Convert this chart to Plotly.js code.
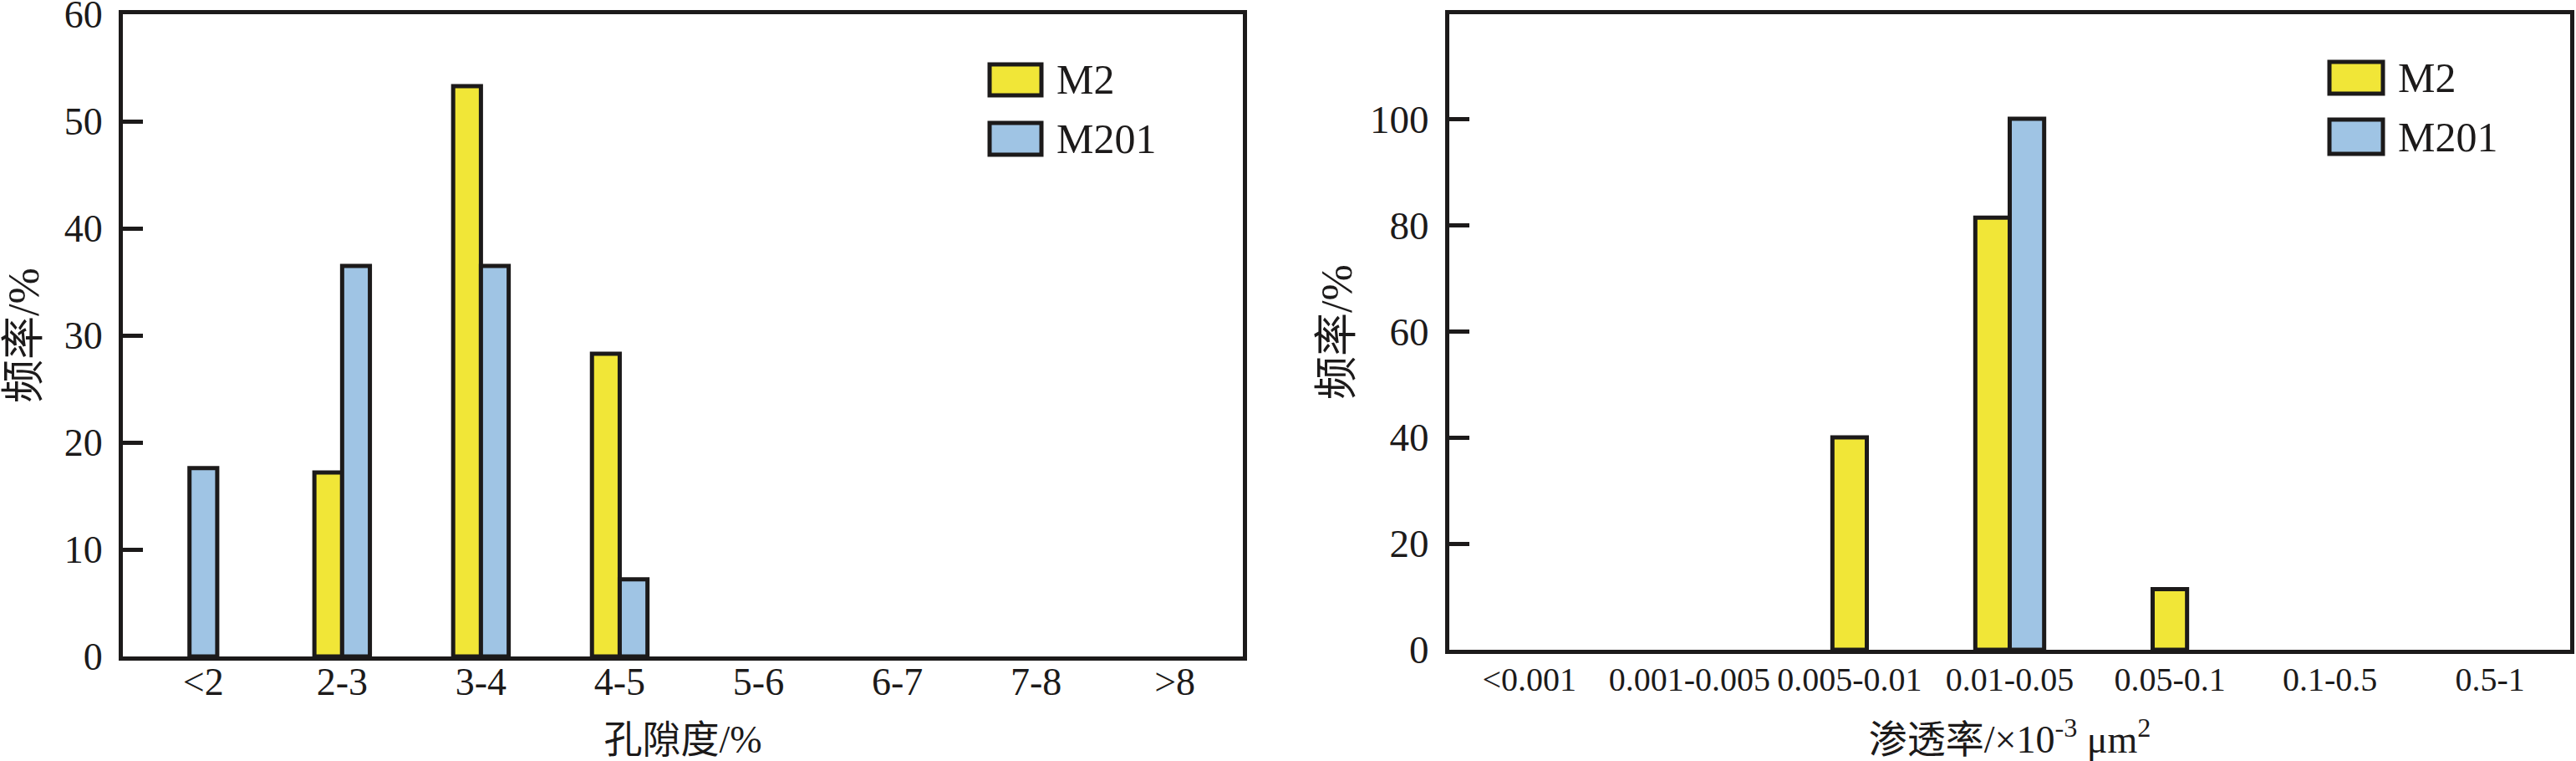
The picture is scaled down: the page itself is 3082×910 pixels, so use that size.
<!DOCTYPE html>
<html>
<head>
<meta charset="utf-8">
<script src="https://cdn.plot.ly/plotly-3.0.1.min.js"></script>
<style>html,body{margin:0;padding:0;background:#fff;}#chart{width:3082px;height:910px;}</style>
</head>
<body>
<div id="chart"></div>
<script>
// ---------- data ----------
const seriesNames = ['M2', 'M201'];

const poroCategories = ['<2', '2-3', '3-4', '4-5', '5-6', '6-7', '7-8', '>8'];
const poroM2 = [null, 17.2, 53.3, 28.3, null, null, null, null];
const poroM201 = [17.6, 36.5, 36.5, 7.2, null, null, null, null];
const poroYTicks = [0, 10, 20, 30, 40, 50, 60];
const poroXTitle = '孔隙度/%';

const permCategories = ['<0.001', '0.001-0.005', '0.005-0.01', '0.01-0.05', '0.05-0.1', '0.1-0.5', '0.5-1'];
const permM2 = [null, null, 40.0, 81.4, 11.4, null, null];
const permM201 = [null, null, null, 100, null, null, null];
const permYTicks = [0, 20, 40, 60, 80, 100];
const permXTitle = '渗透率/×10<sup>-3</sup> μm<sup>2</sup>';

const yTitle = '频率/%';

// ---------- style ----------
const W = 3082, H = 910;
const YELLOW = '#f1e637', BLUE = '#9fc4e4', INK = '#1c1a1a';
const SERIF = '"Liberation Serif", "Noto Sans CJK SC", serif';
const px = v => v / W;
const py = v => 1 - v / H;

// offsets: pair side by side; a lone bar is centred on its category
function offsets(self, other, w, isLeft) {
  return self.map((v, i) => (other[i] == null ? -w / 2 : (isLeft ? -w : 0)));
}

function barTrace(x, y, other, name, color, w, isLeft, xa, ya) {
  return {
    type: 'bar', x: x, y: y, name: name,
    width: w, offset: offsets(y, other, w, isLeft),
    marker: {color: color, line: {color: INK, width: 5}},
    xaxis: xa, yaxis: ya, showlegend: false, hoverinfo: 'x+y'
  };
}

const wL = 0.2, wR = 0.215;
const data = [
  barTrace(poroCategories, poroM2, poroM201, seriesNames[0], YELLOW, wL, true, 'x', 'y'),
  barTrace(poroCategories, poroM201, poroM2, seriesNames[1], BLUE, wL, false, 'x', 'y'),
  barTrace(permCategories, permM2, permM201, seriesNames[0], YELLOW, wR, true, 'x2', 'y2'),
  barTrace(permCategories, permM201, permM2, seriesNames[1], BLUE, wR, false, 'x2', 'y2')
];

const xBase = {
  type: 'category', showline: true, linecolor: INK, linewidth: 5, mirror: true,
  ticks: '', showgrid: false, zeroline: false, fixedrange: true, tickangle: 0,
  tickfont: {family: SERIF, size: 46, color: INK}
};
const yBase = {
  showline: true, linecolor: INK, linewidth: 5, mirror: true,
  ticks: 'inside', ticklen: 24, tickwidth: 5, tickcolor: INK,
  showgrid: false, zeroline: false, fixedrange: true, ticklabeloverflow: 'allow',
  tickfont: {family: SERIF, size: 48, color: INK}
};

const layout = {
  width: W, height: H,
  margin: {l: 0, r: 0, t: 0, b: 0},
  paper_bgcolor: '#fff', plot_bgcolor: '#fff',
  barmode: 'overlay',
  showlegend: false,
  xaxis: Object.assign({}, xBase, {
    domain: [px(147), px(1487)], range: [-0.58, 7.49], anchor: 'y',
    ticklabelstandoff: -14,
    title: {text: poroXTitle, font: {family: SERIF, size: 46, color: INK}, standoff: 46}
  }),
  yaxis: Object.assign({}, yBase, {
    domain: [py(785), py(17)], range: [0, 60.02], anchor: 'x',
    tickvals: poroYTicks, ticklabelstandoff: 10,
    tickfont: {family: SERIF, size: 46, color: INK},
    title: {text: yTitle, font: {family: SERIF, size: 52, color: INK}, standoff: 28}
  }),
  xaxis2: Object.assign({}, xBase, {
    domain: [px(1734), px(3075)], range: [-0.5, 6.5], anchor: 'y2',
    tickfont: {family: SERIF, size: 40, color: INK},
    ticklabelstandoff: -4,
    title: {text: permXTitle, font: {family: SERIF, size: 46, color: INK}, standoff: 40}
  }),
  yaxis2: Object.assign({}, yBase, {
    domain: [py(777), py(17)], range: [0, 119.7], anchor: 'x2',
    tickvals: permYTicks, ticklabelstandoff: 10,
    tickfont: {family: SERIF, size: 47, color: INK},
    title: {text: yTitle, font: {family: SERIF, size: 52, color: INK}, standoff: 6}
  }),
  shapes: [], annotations: []
};

// legends drawn as boxes + labels (one per panel)
function addLegend(x0, x1, rows, textX) {
  const colors = [YELLOW, BLUE];
  rows.forEach((r, i) => {
    layout.shapes.push({
      type: 'rect', xref: 'paper', yref: 'paper',
      x0: px(x0), x1: px(x1), y0: py(r[1]), y1: py(r[0]),
      fillcolor: colors[i], line: {color: INK, width: 5}
    });
    layout.annotations.push({
      xref: 'paper', yref: 'paper', x: px(textX), y: py((r[0] + r[1]) / 2),
      xanchor: 'left', yanchor: 'middle', showarrow: false,
      text: seriesNames[i], font: {family: SERIF, size: 50, color: INK}
    });
  });
}
addLegend(1184, 1246, [[77, 114], [147, 185]], 1262);
addLegend(2787, 2851, [[74, 112], [143, 184]], 2867);

Plotly.newPlot('chart', data, layout, {staticPlot: true, displayModeBar: false});
</script>
</body>
</html>
